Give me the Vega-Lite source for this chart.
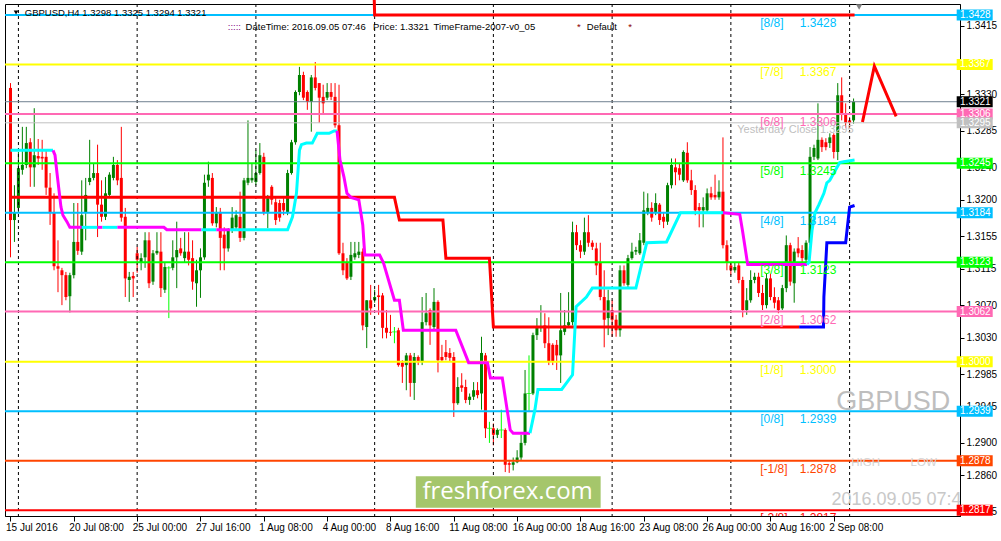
{
"$schema": "https://vega.github.io/schema/vega-lite/v6.json",
"width": 955, "height": 512,
"autosize": {"type": "none"},
"padding": {"left": 5, "top": 4, "right": 41, "bottom": 25},
"background": "white",
"config": {"view": {"stroke": "#000000", "strokeWidth": 1}, "font": "Liberation Sans", "text": {"font": "Liberation Sans"}, "axis": {"labelOverlap": false, "labelBound": false, "labelFlush": false}},
"datasets": {
"candles": [
{"i":0,"o":1.3338,"h":1.3344,"l":1.3129,"c":1.3175},
{"i":1,"o":1.3175,"h":1.3218,"l":1.3148,"c":1.3184},
{"i":2,"o":1.3190,"h":1.3259,"l":1.3184,"c":1.3239},
{"i":3,"o":1.3237,"h":1.3290,"l":1.3231,"c":1.3243},
{"i":4,"o":1.3243,"h":1.3290,"l":1.3239,"c":1.3270},
{"i":5,"o":1.3271,"h":1.3276,"l":1.3216,"c":1.3240},
{"i":6,"o":1.3240,"h":1.3313,"l":1.3216,"c":1.3255},
{"i":7,"o":1.3254,"h":1.3275,"l":1.3243,"c":1.3251},
{"i":8,"o":1.3253,"h":1.3274,"l":1.3237,"c":1.3251},
{"i":9,"o":1.3253,"h":1.3261,"l":1.3206,"c":1.3215},
{"i":10,"o":1.3215,"h":1.3233,"l":1.3169,"c":1.3185},
{"i":11,"o":1.3185,"h":1.3208,"l":1.3113,"c":1.3118},
{"i":12,"o":1.3118,"h":1.3150,"l":1.3086,"c":1.3115},
{"i":13,"o":1.3113,"h":1.3116,"l":1.3070,"c":1.3107},
{"i":14,"o":1.3107,"h":1.3111,"l":1.3076,"c":1.3080},
{"i":15,"o":1.3081,"h":1.3110,"l":1.3061,"c":1.3107},
{"i":16,"o":1.3107,"h":1.3196,"l":1.3103,"c":1.3148},
{"i":17,"o":1.3148,"h":1.3196,"l":1.3132,"c":1.3137},
{"i":18,"o":1.3136,"h":1.3224,"l":1.3132,"c":1.3181},
{"i":19,"o":1.3184,"h":1.3227,"l":1.3150,"c":1.3206},
{"i":20,"o":1.3222,"h":1.3274,"l":1.3218,"c":1.3227},
{"i":21,"o":1.3227,"h":1.3245,"l":1.3224,"c":1.3233},
{"i":22,"o":1.3233,"h":1.3268,"l":1.3154,"c":1.3194},
{"i":23,"o":1.3194,"h":1.3224,"l":1.3173,"c":1.3179},
{"i":24,"o":1.3179,"h":1.3228,"l":1.3175,"c":1.3208},
{"i":25,"o":1.3206,"h":1.3234,"l":1.3202,"c":1.3231},
{"i":26,"o":1.3227,"h":1.3253,"l":1.3224,"c":1.3243},
{"i":27,"o":1.3243,"h":1.3249,"l":1.3218,"c":1.3224},
{"i":28,"o":1.3227,"h":1.3290,"l":1.3173,"c":1.3178},
{"i":29,"o":1.3179,"h":1.3190,"l":1.3080,"c":1.3103},
{"i":30,"o":1.3101,"h":1.3111,"l":1.3074,"c":1.3105},
{"i":31,"o":1.3106,"h":1.3111,"l":1.3080,"c":1.3103},
{"i":32,"o":1.3134,"h":1.3142,"l":1.3110,"c":1.3126},
{"i":33,"o":1.3123,"h":1.3134,"l":1.3113,"c":1.3128},
{"i":34,"o":1.3129,"h":1.3160,"l":1.3116,"c":1.3150},
{"i":35,"o":1.3150,"h":1.3160,"l":1.3091,"c":1.3097},
{"i":36,"o":1.3099,"h":1.3138,"l":1.3095,"c":1.3134},
{"i":37,"o":1.3134,"h":1.3160,"l":1.3132,"c":1.3137},
{"i":38,"o":1.3136,"h":1.3160,"l":1.3080,"c":1.3091},
{"i":39,"o":1.3089,"h":1.3122,"l":1.3085,"c":1.3117},
{"i":40,"o":1.3116,"h":1.3118,"l":1.3054,"c":1.3116},
{"i":41,"o":1.3116,"h":1.3150,"l":1.3113,"c":1.3129},
{"i":42,"o":1.3129,"h":1.3173,"l":1.3091,"c":1.3138},
{"i":43,"o":1.3140,"h":1.3153,"l":1.3131,"c":1.3134},
{"i":44,"o":1.3128,"h":1.3160,"l":1.3123,"c":1.3136},
{"i":45,"o":1.3136,"h":1.3160,"l":1.3119,"c":1.3126},
{"i":46,"o":1.3128,"h":1.3150,"l":1.3089,"c":1.3099},
{"i":47,"o":1.3097,"h":1.3126,"l":1.3068,"c":1.3113},
{"i":48,"o":1.3113,"h":1.3140,"l":1.3079,"c":1.3129},
{"i":49,"o":1.3129,"h":1.3231,"l":1.3126,"c":1.3221},
{"i":50,"o":1.3224,"h":1.3247,"l":1.3216,"c":1.3231},
{"i":51,"o":1.3227,"h":1.3233,"l":1.3168,"c":1.3171},
{"i":52,"o":1.3171,"h":1.3191,"l":1.3166,"c":1.3185},
{"i":53,"o":1.3185,"h":1.3190,"l":1.3113,"c":1.3153},
{"i":54,"o":1.3157,"h":1.3166,"l":1.3113,"c":1.3140},
{"i":55,"o":1.3140,"h":1.3165,"l":1.3136,"c":1.3163},
{"i":56,"o":1.3163,"h":1.3191,"l":1.3159,"c":1.3178},
{"i":57,"o":1.3166,"h":1.3187,"l":1.3163,"c":1.3181},
{"i":58,"o":1.3179,"h":1.3210,"l":1.3148,"c":1.3153},
{"i":59,"o":1.3153,"h":1.3227,"l":1.3150,"c":1.3224},
{"i":60,"o":1.3221,"h":1.3298,"l":1.3218,"c":1.3227},
{"i":61,"o":1.3224,"h":1.3245,"l":1.3221,"c":1.3227},
{"i":62,"o":1.3222,"h":1.3261,"l":1.3218,"c":1.3233},
{"i":63,"o":1.3233,"h":1.3270,"l":1.3231,"c":1.3255},
{"i":64,"o":1.3253,"h":1.3258,"l":1.3181,"c":1.3185},
{"i":65,"o":1.3185,"h":1.3206,"l":1.3165,"c":1.3202},
{"i":66,"o":1.3216,"h":1.3218,"l":1.3194,"c":1.3200},
{"i":67,"o":1.3197,"h":1.3202,"l":1.3169,"c":1.3175},
{"i":68,"o":1.3196,"h":1.3200,"l":1.3173,"c":1.3178},
{"i":69,"o":1.3196,"h":1.3202,"l":1.3181,"c":1.3187},
{"i":70,"o":1.3185,"h":1.3237,"l":1.3181,"c":1.3233},
{"i":71,"o":1.3233,"h":1.3274,"l":1.3231,"c":1.3271},
{"i":72,"o":1.3271,"h":1.3335,"l":1.3268,"c":1.3333},
{"i":73,"o":1.3333,"h":1.3364,"l":1.3329,"c":1.3354},
{"i":74,"o":1.3354,"h":1.3358,"l":1.3323,"c":1.3326},
{"i":75,"o":1.3333,"h":1.3335,"l":1.3311,"c":1.3321},
{"i":76,"o":1.3321,"h":1.3354,"l":1.3284,"c":1.3351},
{"i":77,"o":1.3351,"h":1.3370,"l":1.3335,"c":1.3338},
{"i":78,"o":1.3344,"h":1.3344,"l":1.3295,"c":1.3326},
{"i":79,"o":1.3327,"h":1.3342,"l":1.3307,"c":1.3319},
{"i":80,"o":1.3326,"h":1.3344,"l":1.3323,"c":1.3333},
{"i":81,"o":1.3333,"h":1.3344,"l":1.3323,"c":1.3327},
{"i":82,"o":1.3327,"h":1.3344,"l":1.3289,"c":1.3292},
{"i":83,"o":1.3292,"h":1.3342,"l":1.3132,"c":1.3134},
{"i":84,"o":1.3134,"h":1.3147,"l":1.3107,"c":1.3113},
{"i":85,"o":1.3123,"h":1.3128,"l":1.3101,"c":1.3103},
{"i":86,"o":1.3105,"h":1.3148,"l":1.3101,"c":1.3132},
{"i":87,"o":1.3129,"h":1.3148,"l":1.3126,"c":1.3134},
{"i":88,"o":1.3132,"h":1.3148,"l":1.3128,"c":1.3136},
{"i":89,"o":1.3136,"h":1.3140,"l":1.3039,"c":1.3045},
{"i":90,"o":1.3043,"h":1.3076,"l":1.3017,"c":1.3076},
{"i":91,"o":1.3076,"h":1.3095,"l":1.3058,"c":1.3066},
{"i":92,"o":1.3076,"h":1.3089,"l":1.3073,"c":1.3080},
{"i":93,"o":1.3082,"h":1.3095,"l":1.3058,"c":1.3080},
{"i":94,"o":1.3082,"h":1.3085,"l":1.3029,"c":1.3042},
{"i":95,"o":1.3042,"h":1.3064,"l":1.3029,"c":1.3036},
{"i":96,"o":1.3037,"h":1.3058,"l":1.3032,"c":1.3036},
{"i":97,"o":1.3037,"h":1.3043,"l":1.3023,"c":1.3037},
{"i":98,"o":1.3039,"h":1.3042,"l":1.2994,"c":1.2996},
{"i":99,"o":1.2999,"h":1.3002,"l":1.2974,"c":1.2994},
{"i":100,"o":1.2996,"h":1.3011,"l":1.2965,"c":1.3008},
{"i":101,"o":1.3008,"h":1.3011,"l":1.2957,"c":1.2974},
{"i":102,"o":1.2974,"h":1.3011,"l":1.2953,"c":1.3006},
{"i":103,"o":1.3006,"h":1.3008,"l":1.2996,"c":1.3000},
{"i":104,"o":1.3000,"h":1.3080,"l":1.2996,"c":1.3049},
{"i":105,"o":1.3049,"h":1.3085,"l":1.3045,"c":1.3060},
{"i":106,"o":1.3064,"h":1.3066,"l":1.3021,"c":1.3045},
{"i":107,"o":1.3043,"h":1.3091,"l":1.3039,"c":1.3074},
{"i":108,"o":1.3074,"h":1.3076,"l":1.2987,"c":1.3002},
{"i":109,"o":1.3006,"h":1.3021,"l":1.3000,"c":1.3002},
{"i":110,"o":1.3012,"h":1.3027,"l":1.3002,"c":1.3006},
{"i":111,"o":1.3011,"h":1.3017,"l":1.3000,"c":1.3005},
{"i":112,"o":1.3006,"h":1.3012,"l":1.2932,"c":1.2949},
{"i":113,"o":1.2949,"h":1.2981,"l":1.2947,"c":1.2969},
{"i":114,"o":1.2971,"h":1.2986,"l":1.2963,"c":1.2968},
{"i":115,"o":1.2969,"h":1.2978,"l":1.2949,"c":1.2953},
{"i":116,"o":1.2953,"h":1.2961,"l":1.2947,"c":1.2957},
{"i":117,"o":1.2957,"h":1.2975,"l":1.2953,"c":1.2965},
{"i":118,"o":1.2965,"h":1.2975,"l":1.2955,"c":1.2959},
{"i":119,"o":1.2961,"h":1.3031,"l":1.2941,"c":1.3011},
{"i":120,"o":1.3008,"h":1.3011,"l":1.2906,"c":1.2918},
{"i":121,"o":1.2918,"h":1.2926,"l":1.2900,"c":1.2918},
{"i":122,"o":1.2918,"h":1.2924,"l":1.2897,"c":1.2910},
{"i":123,"o":1.2910,"h":1.2918,"l":1.2906,"c":1.2916},
{"i":124,"o":1.2916,"h":1.2941,"l":1.2906,"c":1.2916},
{"i":125,"o":1.2916,"h":1.2918,"l":1.2864,"c":1.2873},
{"i":126,"o":1.2875,"h":1.2879,"l":1.2863,"c":1.2873},
{"i":127,"o":1.2873,"h":1.2882,"l":1.2866,"c":1.2876},
{"i":128,"o":1.2876,"h":1.2891,"l":1.2875,"c":1.2882},
{"i":129,"o":1.2882,"h":1.2910,"l":1.2879,"c":1.2900},
{"i":130,"o":1.2900,"h":1.2990,"l":1.2897,"c":1.2961},
{"i":131,"o":1.2961,"h":1.3008,"l":1.2938,"c":1.2961},
{"i":132,"o":1.2961,"h":1.3036,"l":1.2959,"c":1.3033},
{"i":133,"o":1.3033,"h":1.3054,"l":1.3027,"c":1.3042},
{"i":134,"o":1.3042,"h":1.3070,"l":1.3037,"c":1.3043},
{"i":135,"o":1.3045,"h":1.3060,"l":1.3017,"c":1.3023},
{"i":136,"o":1.3023,"h":1.3055,"l":1.2996,"c":1.3000},
{"i":137,"o":1.3021,"h":1.3023,"l":1.2996,"c":1.3000},
{"i":138,"o":1.3021,"h":1.3027,"l":1.2990,"c":1.3008},
{"i":139,"o":1.3008,"h":1.3085,"l":1.2974,"c":1.3039},
{"i":140,"o":1.3037,"h":1.3064,"l":1.3033,"c":1.3045},
{"i":141,"o":1.3045,"h":1.3086,"l":1.3042,"c":1.3049},
{"i":142,"o":1.3049,"h":1.3173,"l":1.3045,"c":1.3160},
{"i":143,"o":1.3160,"h":1.3169,"l":1.3138,"c":1.3144},
{"i":144,"o":1.3144,"h":1.3150,"l":1.3128,"c":1.3136},
{"i":145,"o":1.3136,"h":1.3178,"l":1.3132,"c":1.3160},
{"i":146,"o":1.3160,"h":1.3181,"l":1.3142,"c":1.3147},
{"i":147,"o":1.3147,"h":1.3150,"l":1.3138,"c":1.3142},
{"i":148,"o":1.3140,"h":1.3147,"l":1.3107,"c":1.3119},
{"i":149,"o":1.3122,"h":1.3147,"l":1.3076,"c":1.3080},
{"i":150,"o":1.3080,"h":1.3113,"l":1.3018,"c":1.3052},
{"i":151,"o":1.3054,"h":1.3089,"l":1.3033,"c":1.3076},
{"i":152,"o":1.3064,"h":1.3076,"l":1.3031,"c":1.3052},
{"i":153,"o":1.3052,"h":1.3058,"l":1.3031,"c":1.3039},
{"i":154,"o":1.3039,"h":1.3119,"l":1.3031,"c":1.3113},
{"i":155,"o":1.3113,"h":1.3119,"l":1.3094,"c":1.3097},
{"i":156,"o":1.3095,"h":1.3132,"l":1.3091,"c":1.3128},
{"i":157,"o":1.3128,"h":1.3147,"l":1.3126,"c":1.3136},
{"i":158,"o":1.3136,"h":1.3142,"l":1.3132,"c":1.3138},
{"i":159,"o":1.3134,"h":1.3159,"l":1.3132,"c":1.3150},
{"i":160,"o":1.3147,"h":1.3210,"l":1.3144,"c":1.3187},
{"i":161,"o":1.3185,"h":1.3208,"l":1.3181,"c":1.3190},
{"i":162,"o":1.3190,"h":1.3197,"l":1.3173,"c":1.3178},
{"i":163,"o":1.3185,"h":1.3208,"l":1.3181,"c":1.3196},
{"i":164,"o":1.3194,"h":1.3196,"l":1.3169,"c":1.3175},
{"i":165,"o":1.3179,"h":1.3185,"l":1.3165,"c":1.3173},
{"i":166,"o":1.3173,"h":1.3221,"l":1.3169,"c":1.3218},
{"i":167,"o":1.3218,"h":1.3251,"l":1.3214,"c":1.3243},
{"i":168,"o":1.3240,"h":1.3251,"l":1.3218,"c":1.3234},
{"i":169,"o":1.3239,"h":1.3245,"l":1.3224,"c":1.3231},
{"i":170,"o":1.3224,"h":1.3261,"l":1.3222,"c":1.3259},
{"i":171,"o":1.3258,"h":1.3271,"l":1.3221,"c":1.3224},
{"i":172,"o":1.3224,"h":1.3237,"l":1.3206,"c":1.3212},
{"i":173,"o":1.3212,"h":1.3218,"l":1.3181,"c":1.3187},
{"i":174,"o":1.3191,"h":1.3196,"l":1.3166,"c":1.3187},
{"i":175,"o":1.3187,"h":1.3203,"l":1.3166,"c":1.3191},
{"i":176,"o":1.3187,"h":1.3214,"l":1.3185,"c":1.3208},
{"i":177,"o":1.3208,"h":1.3216,"l":1.3200,"c":1.3203},
{"i":178,"o":1.3206,"h":1.3231,"l":1.3200,"c":1.3203},
{"i":179,"o":1.3203,"h":1.3224,"l":1.3200,"c":1.3210},
{"i":180,"o":1.3210,"h":1.3277,"l":1.3140,"c":1.3144},
{"i":181,"o":1.3144,"h":1.3150,"l":1.3113,"c":1.3122},
{"i":182,"o":1.3119,"h":1.3123,"l":1.3107,"c":1.3113},
{"i":183,"o":1.3113,"h":1.3123,"l":1.3110,"c":1.3117},
{"i":184,"o":1.3119,"h":1.3123,"l":1.3097,"c":1.3101},
{"i":185,"o":1.3101,"h":1.3105,"l":1.3055,"c":1.3064},
{"i":186,"o":1.3064,"h":1.3091,"l":1.3058,"c":1.3076},
{"i":187,"o":1.3076,"h":1.3113,"l":1.3073,"c":1.3101},
{"i":188,"o":1.3101,"h":1.3110,"l":1.3097,"c":1.3105},
{"i":189,"o":1.3105,"h":1.3110,"l":1.3080,"c":1.3085},
{"i":190,"o":1.3085,"h":1.3095,"l":1.3064,"c":1.3070},
{"i":191,"o":1.3070,"h":1.3109,"l":1.3066,"c":1.3103},
{"i":192,"o":1.3103,"h":1.3109,"l":1.3076,"c":1.3080},
{"i":193,"o":1.3080,"h":1.3092,"l":1.3066,"c":1.3073},
{"i":194,"o":1.3076,"h":1.3080,"l":1.3060,"c":1.3064},
{"i":195,"o":1.3066,"h":1.3095,"l":1.3064,"c":1.3091},
{"i":196,"o":1.3091,"h":1.3156,"l":1.3086,"c":1.3144},
{"i":197,"o":1.3144,"h":1.3147,"l":1.3094,"c":1.3099},
{"i":198,"o":1.3097,"h":1.3140,"l":1.3073,"c":1.3136},
{"i":199,"o":1.3140,"h":1.3154,"l":1.3129,"c":1.3134},
{"i":200,"o":1.3138,"h":1.3144,"l":1.3123,"c":1.3128},
{"i":201,"o":1.3126,"h":1.3150,"l":1.3119,"c":1.3147},
{"i":202,"o":1.3147,"h":1.3265,"l":1.3144,"c":1.3253},
{"i":203,"o":1.3253,"h":1.3268,"l":1.3249,"c":1.3264},
{"i":204,"o":1.3251,"h":1.3319,"l":1.3249,"c":1.3274},
{"i":205,"o":1.3274,"h":1.3277,"l":1.3259,"c":1.3265},
{"i":206,"o":1.3271,"h":1.3276,"l":1.3261,"c":1.3265},
{"i":207,"o":1.3270,"h":1.3282,"l":1.3264,"c":1.3277},
{"i":208,"o":1.3280,"h":1.3282,"l":1.3251,"c":1.3259},
{"i":209,"o":1.3259,"h":1.3344,"l":1.3249,"c":1.3329},
{"i":210,"o":1.3329,"h":1.3351,"l":1.3298,"c":1.3305},
{"i":211,"o":1.3305,"h":1.3319,"l":1.3289,"c":1.3295},
{"i":212,"o":1.3298,"h":1.3302,"l":1.3289,"c":1.3295},
{"i":213,"o":1.3298,"h":1.3325,"l":1.3294,"c":1.3321}
],
"levels": [
{"p":1.3428,"k":"8/8","t":"[8/8]","v":"1.3428"},
{"p":1.3367,"k":"7/8","t":"[7/8]","v":"1.3367"},
{"p":1.3306,"k":"6/8","t":"[6/8]","v":"1.3306"},
{"p":1.3245,"k":"5/8","t":"[5/8]","v":"1.3245"},
{"p":1.3184,"k":"4/8","t":"[4/8]","v":"1.3184"},
{"p":1.3123,"k":"3/8","t":"[3/8]","v":"1.3123"},
{"p":1.3062,"k":"2/8","t":"[2/8]","v":"1.3062"},
{"p":1.3000,"k":"1/8","t":"[1/8]","v":"1.3000"},
{"p":1.2939,"k":"0/8","t":"[0/8]","v":"1.2939"},
{"p":1.2878,"k":"-1/8","t":"[-1/8]","v":"1.2878"},
{"p":1.2817,"k":"-2/8","t":"[-2/8]","v":"1.2817"}
],
"marks": [
{"p":1.3321,"k":"cur"},
{"p":1.3295,"k":"yc"}
],
"tags": [
{"p":1.3428,"k":"8/8","v":"1.3428"},
{"p":1.3367,"k":"7/8","v":"1.3367"},
{"p":1.3321,"k":"cur","v":"1.3321"},
{"p":1.3306,"k":"6/8","v":"1.3306"},
{"p":1.3295,"k":"yc","v":"1.3295"},
{"p":1.3245,"k":"5/8","v":"1.3245"},
{"p":1.3184,"k":"4/8","v":"1.3184"},
{"p":1.3123,"k":"3/8","v":"1.3123"},
{"p":1.3062,"k":"2/8","v":"1.3062"},
{"p":1.3000,"k":"1/8","v":"1.3000"},
{"p":1.2939,"k":"0/8","v":"1.2939"},
{"p":1.2878,"k":"-1/8","v":"1.2878"},
{"p":1.2817,"k":"-2/8","v":"1.2817"}
],
"seps": [{"i":2},{"i":32},{"i":62},{"i":92},{"i":122},{"i":152},{"i":182},{"i":212}],
"redstep": [
{"i":0,"p":1.3203},{"i":97,"p":1.3203},{"i":98.25,"p":1.3175},{"i":109.25,"p":1.3175},{"i":110,"p":1.3128},{"i":121,"p":1.3128},{"i":122,"p":1.3043},{"i":199.25,"p":1.3043}
],
"blue": [
{"i":199.25,"p":1.3043},{"i":205.4,"p":1.3043},{"i":205.5,"p":1.3080},{"i":206.25,"p":1.3147},{"i":211,"p":1.3147},{"i":212,"p":1.3191},{"i":213.25,"p":1.3193}
],
"redtop": [
{"i":91.9,"p":1.3447},{"i":92,"p":1.3428},{"i":213.25,"p":1.3428}
],
"zig": [
{"i":215.25,"p":1.3296},{"i":218.25,"p":1.3365},{"i":223.75,"p":1.3303}
],
"mc": [
{"s":1,"c":"up","i":0,"p":1.3261},{"s":1,"c":"up","i":10.75,"p":1.3261},
{"s":2,"c":"down","i":10.75,"p":1.3261},{"s":2,"c":"down","i":11.25,"p":1.3255},{"s":2,"c":"down","i":11.75,"p":1.3233},{"s":2,"c":"down","i":12.25,"p":1.3212},{"s":2,"c":"down","i":12.75,"p":1.3191},{"s":2,"c":"down","i":13.25,"p":1.3181},{"s":2,"c":"down","i":14.25,"p":1.3173},{"s":2,"c":"down","i":15,"p":1.3166},{"s":2,"c":"down","i":18,"p":1.3166},
{"s":3,"c":"up","i":18,"p":1.3166},{"s":3,"c":"up","i":22,"p":1.3166},
{"s":4,"c":"down","i":22,"p":1.3166},{"s":4,"c":"down","i":23.25,"p":1.3166},
{"s":5,"c":"up","i":23.25,"p":1.3166},{"s":5,"c":"up","i":27,"p":1.3166},
{"s":6,"c":"down","i":27,"p":1.3166},{"s":6,"c":"down","i":38.75,"p":1.3166},{"s":6,"c":"down","i":39.5,"p":1.3163},{"s":6,"c":"down","i":48.25,"p":1.3163},
{"s":7,"c":"up","i":48.25,"p":1.3163},{"s":7,"c":"up","i":52,"p":1.3163},
{"s":8,"c":"down","i":52,"p":1.3163},{"s":8,"c":"down","i":55.5,"p":1.3163},
{"s":9,"c":"up","i":55.5,"p":1.3163},{"s":9,"c":"up","i":70,"p":1.3163},{"s":9,"c":"up","i":71.25,"p":1.3179},{"s":9,"c":"up","i":72.25,"p":1.3208},{"s":9,"c":"up","i":73,"p":1.3261},{"s":9,"c":"up","i":73.5,"p":1.3268},{"s":9,"c":"up","i":74.75,"p":1.3270},{"s":9,"c":"up","i":76.25,"p":1.3270},{"s":9,"c":"up","i":77.5,"p":1.3282},{"s":9,"c":"up","i":80.5,"p":1.3282},{"s":9,"c":"up","i":81.75,"p":1.3285},{"s":9,"c":"up","i":82.5,"p":1.3285},
{"s":10,"c":"down","i":82.5,"p":1.3285},{"s":10,"c":"down","i":83.25,"p":1.3249},{"s":10,"c":"down","i":84.25,"p":1.3228},{"s":10,"c":"down","i":85,"p":1.3208},{"s":10,"c":"down","i":86,"p":1.3203},{"s":10,"c":"down","i":88,"p":1.3200},{"s":10,"c":"down","i":89,"p":1.3169},{"s":10,"c":"down","i":89.5,"p":1.3132},{"s":10,"c":"down","i":93.25,"p":1.3132},{"s":10,"c":"down","i":94.25,"p":1.3122},{"s":10,"c":"down","i":97,"p":1.3076},{"s":10,"c":"down","i":98.25,"p":1.3076},{"s":10,"c":"down","i":99.25,"p":1.3039},{"s":10,"c":"down","i":112.5,"p":1.3039},{"s":10,"c":"down","i":115.75,"p":1.2999},{"s":10,"c":"down","i":120.5,"p":1.2999},{"s":10,"c":"down","i":121.25,"p":1.2980},{"s":10,"c":"down","i":124.25,"p":1.2980},{"s":10,"c":"down","i":126.25,"p":1.2916},{"s":10,"c":"down","i":127,"p":1.2912},{"s":10,"c":"down","i":131.25,"p":1.2912},
{"s":11,"c":"up","i":131.25,"p":1.2912},{"s":11,"c":"up","i":132.5,"p":1.2941},{"s":11,"c":"up","i":133.25,"p":1.2966},{"s":11,"c":"up","i":139.25,"p":1.2966},{"s":11,"c":"up","i":142,"p":1.2984},{"s":11,"c":"up","i":142.9,"p":1.3068},{"s":11,"c":"up","i":145.5,"p":1.3080},{"s":11,"c":"up","i":147,"p":1.3091},{"s":11,"c":"up","i":158,"p":1.3091},{"s":11,"c":"up","i":160.75,"p":1.3147},{"s":11,"c":"up","i":165.75,"p":1.3148},{"s":11,"c":"up","i":169.25,"p":1.3184},{"s":11,"c":"up","i":180,"p":1.3184},
{"s":12,"c":"down","i":180,"p":1.3184},{"s":12,"c":"down","i":184.25,"p":1.3182},{"s":12,"c":"down","i":185,"p":1.3160},{"s":12,"c":"down","i":186.25,"p":1.3120},{"s":12,"c":"down","i":201.25,"p":1.3120},
{"s":13,"c":"up","i":201.25,"p":1.3120},{"s":13,"c":"up","i":201.75,"p":1.3123},{"s":13,"c":"up","i":202.5,"p":1.3162},{"s":13,"c":"up","i":203.25,"p":1.3184},{"s":13,"c":"up","i":204.25,"p":1.3194},{"s":13,"c":"up","i":205.5,"p":1.3208},{"s":13,"c":"up","i":206.25,"p":1.3221},{"s":13,"c":"up","i":207,"p":1.3224},{"s":13,"c":"up","i":209.5,"p":1.3246},{"s":13,"c":"up","i":210.5,"p":1.3247},{"s":13,"c":"up","i":213.25,"p":1.3249}
],
"one": [{"n": 1}]
},
"resolve": {"scale": {"color": "independent"}},
"layer": [
{
 "data": {"name": "candles"},
 "transform": [{"calculate": "datum.c > datum.o ? 'up' : (datum.c < datum.o ? 'down' : 'doji')", "as": "dir"}],
 "mark": {"type": "rule", "strokeWidth": 1, "clip": true},
 "encoding": {
  "x": {"field": "i", "type": "quantitative", "scale": {"domain": [-0.125, 238.625], "nice": false, "zero": false},
   "axis": {"title": null, "values": [0,16,32,48,64,80,96,112,128,144,160,176,192,208], "tickCount": 40,
    "labelExpr": "['15 Jul 2016','20 Jul 08:00','25 Jul 00:00','27 Jul 16:00','1 Aug 08:00','4 Aug 00:00','8 Aug 16:00','11 Aug 08:00','16 Aug 00:00','18 Aug 16:00','23 Aug 08:00','26 Aug 00:00','30 Aug 16:00','2 Sep 08:00'][round(datum.value/16)]",
    "labelAlign": "left", "labelBaseline": "top", "labelPadding": 1, "labelOffset": -5, "tickSize": 5, "tickColor": "#000000", "domainColor": "#000000", "labelColor": "#000000", "labelFontSize": 10, "labelFont": "Liberation Sans", "grid": false, "labelOverlap": false, "labelFlush": false}},
  "y": {"field": "l", "type": "quantitative", "scale": {"domain": [1.28098, 1.34416], "nice": false, "zero": false},
   "axis": {"orient": "right", "title": null, "values": [1.3415,1.333,1.3285,1.324,1.32,1.3155,1.3115,1.307,1.303,1.2985,1.2945,1.29,1.286,1.2815], "tickCount": 40,
    "format": ".4f", "tickSize": 4, "labelPadding": 2, "labelFontSize": 10, "labelFont": "Liberation Sans", "grid": false, "labelOverlap": false, "labelFlush": false, "labelBound": false, "domainColor": "#000000", "tickColor": "#000000", "labelColor": "#000000", "labelBaseline": "middle"}},
  "y2": {"field": "h"},
  "color": {"field": "dir", "type": "nominal", "scale": {"domain": ["up","down","doji"], "range": ["#008000","#FF0000","#00FF00"]}, "legend": null}
 }
},
{
 "data": {"name": "candles"},
 "transform": [{"calculate": "datum.c > datum.o ? 'up' : (datum.c < datum.o ? 'down' : 'doji')", "as": "dir"}],
 "mark": {"type": "bar", "size": 3, "clip": true},
 "encoding": {
  "x": {"field": "i", "type": "quantitative", "axis": {"title": null}},
  "y": {"field": "o", "type": "quantitative", "axis": {"title": null}},
  "y2": {"field": "c"},
  "color": {"field": "dir", "type": "nominal", "scale": {"domain": ["up","down","doji"], "range": ["#008000","#FF0000","#00FF00"]}, "legend": null}
 }
},
{
 "data": {"name": "candles"},
 "transform": [{"filter": "datum.c == datum.o"}],
 "mark": {"type": "tick", "orient": "horizontal", "size": 5, "thickness": 1, "color": "#00FF00", "clip": true},
 "encoding": {
  "x": {"field": "i", "type": "quantitative", "axis": {"title": null}},
  "y": {"field": "o", "type": "quantitative", "axis": {"title": null}}
 }
},
{
 "data": {"name": "seps"},
 "mark": {"type": "rule", "color": "#000000", "strokeWidth": 1, "strokeDash": [3, 3]},
 "encoding": {"x": {"field": "i", "type": "quantitative", "axis": {"title": null}}}
},
{
 "data": {"name": "levels"},
 "mark": {"type": "rule", "strokeWidth": 2},
 "encoding": {
  "y": {"field": "p", "type": "quantitative", "axis": {"title": null}},
  "color": {"field": "k", "type": "nominal", "legend": null, "scale": {"domain": ["8/8","7/8","6/8","5/8","4/8","3/8","2/8","1/8","0/8","-1/8","-2/8"], "range": ["#00BFFF","#FFFF00","#FF69B4","#00FF00","#00BFFF","#00FF00","#FF69B4","#FFFF00","#00BFFF","#FF4500","#FF0000"]}}
 }
},
{
 "data": {"name": "marks"},
 "mark": {"type": "rule", "strokeWidth": 1},
 "encoding": {
  "y": {"field": "p", "type": "quantitative", "axis": {"title": null}},
  "color": {"field": "k", "type": "nominal", "legend": null, "scale": {"domain": ["cur","yc"], "range": ["#708090","#C0C0C0"]}}
 }
},
{
 "data": {"name": "redtop"},
 "mark": {"type": "line", "color": "#FF0000", "strokeWidth": 3},
 "encoding": {"x": {"field": "i", "type": "quantitative", "axis": {"title": null}}, "y": {"field": "p", "type": "quantitative", "axis": {"title": null}}}
},
{
 "data": {"name": "redstep"},
 "mark": {"type": "line", "color": "#FF0000", "strokeWidth": 3, "clip": true},
 "encoding": {"x": {"field": "i", "type": "quantitative", "axis": {"title": null}}, "y": {"field": "p", "type": "quantitative", "axis": {"title": null}}}
},
{
 "data": {"name": "blue"},
 "mark": {"type": "line", "color": "#0000FF", "strokeWidth": 3, "clip": true},
 "encoding": {"x": {"field": "i", "type": "quantitative", "axis": {"title": null}}, "y": {"field": "p", "type": "quantitative", "axis": {"title": null}}}
},
{
 "data": {"name": "mc"},
 "mark": {"type": "line", "strokeWidth": 3, "clip": true},
 "encoding": {
  "x": {"field": "i", "type": "quantitative", "axis": {"title": null}},
  "y": {"field": "p", "type": "quantitative", "axis": {"title": null}},
  "detail": {"field": "s", "type": "nominal"},
  "color": {"field": "c", "type": "nominal", "legend": null, "scale": {"domain": ["up","down"], "range": ["#00FFFF","#FF00FF"]}}
 }
},
{
 "data": {"name": "zig"},
 "mark": {"type": "line", "color": "#FF0000", "strokeWidth": 3},
 "encoding": {"x": {"field": "i", "type": "quantitative", "axis": {"title": null}}, "y": {"field": "p", "type": "quantitative", "axis": {"title": null}}}
},
{
 "data": {"name": "levels"},
 "mark": {"type": "text", "align": "left", "baseline": "middle", "dy": 8, "fontSize": 12, "clip": true},
 "encoding": {
  "x": {"datum": 189.4, "type": "quantitative", "axis": {"title": null}},
  "y": {"field": "p", "type": "quantitative", "axis": {"title": null}},
  "text": {"field": "t"},
  "color": {"field": "k", "type": "nominal", "legend": null, "scale": {"domain": ["8/8","7/8","6/8","5/8","4/8","3/8","2/8","1/8","0/8","-1/8","-2/8"], "range": ["#00BFFF","#FFFF00","#FF69B4","#00FF00","#00BFFF","#00FF00","#FF69B4","#FFFF00","#00BFFF","#FF4500","#FF0000"]}}
 }
},
{
 "data": {"name": "levels"},
 "mark": {"type": "text", "align": "left", "baseline": "middle", "dy": 8, "fontSize": 12, "clip": true},
 "encoding": {
  "x": {"datum": 199.4, "type": "quantitative", "axis": {"title": null}},
  "y": {"field": "p", "type": "quantitative", "axis": {"title": null}},
  "text": {"field": "v"},
  "color": {"field": "k", "type": "nominal", "legend": null, "scale": {"domain": ["8/8","7/8","6/8","5/8","4/8","3/8","2/8","1/8","0/8","-1/8","-2/8"], "range": ["#00BFFF","#FFFF00","#FF69B4","#00FF00","#00BFFF","#00FF00","#FF69B4","#FFFF00","#00BFFF","#FF4500","#FF0000"]}}
 }
},
{
 "data": {"name": "one"},
 "mark": {"type": "text", "align": "left", "baseline": "middle", "fontSize": 11, "color": "#C0C0C0", "text": "Yesterday Close 1.3295"},
 "encoding": {"x": {"datum": 183.6, "type": "quantitative", "axis": {"title": null}}, "y": {"datum": 1.3286, "type": "quantitative", "axis": {"title": null}}}
},
{
 "data": {"name": "one"},
 "mark": {"type": "text", "align": "left", "baseline": "middle", "fontSize": 27, "color": "#BEBEBE", "text": "GBPUSD"},
 "encoding": {"x": {"datum": 208.6, "type": "quantitative", "axis": {"title": null}}, "y": {"datum": 1.2950, "type": "quantitative", "axis": {"title": null}}}
},
{
 "data": {"name": "one"},
 "mark": {"type": "text", "align": "left", "baseline": "middle", "fontSize": 11.5, "color": "#D3D3D3", "text": "HIGH"},
 "encoding": {"x": {"datum": 212.4, "type": "quantitative", "axis": {"title": null}}, "y": {"datum": 1.2875, "type": "quantitative", "axis": {"title": null}}}
},
{
 "data": {"name": "one"},
 "mark": {"type": "text", "align": "left", "baseline": "middle", "fontSize": 11.5, "color": "#D3D3D3", "text": "LOW"},
 "encoding": {"x": {"datum": 227.4, "type": "quantitative", "axis": {"title": null}}, "y": {"datum": 1.2875, "type": "quantitative", "axis": {"title": null}}}
},
{
 "data": {"name": "one"},
 "mark": {"type": "text", "align": "left", "baseline": "middle", "fontSize": 18, "color": "#C8C8C8", "text": "2016.09.05 07:46", "clip": true},
 "encoding": {"x": {"datum": 207.4, "type": "quantitative", "axis": {"title": null}}, "y": {"datum": 1.2830, "type": "quantitative", "axis": {"title": null}}}
},
{
 "data": {"name": "one"},
 "mark": {"type": "rect", "color": "#A5C66B"},
 "encoding": {"x": {"datum": 102.4, "type": "quantitative", "axis": {"title": null}}, "x2": {"datum": 149.1}, "y": {"datum": 1.2859, "type": "quantitative", "axis": {"title": null}}, "y2": {"datum": 1.2820}}
},
{
 "data": {"name": "one"},
 "mark": {"type": "text", "align": "center", "baseline": "middle", "fontSize": 24, "color": "#FFFFFF", "font": "Open Sans", "text": "freshforex.com"},
 "encoding": {"x": {"datum": 125.6, "type": "quantitative", "axis": {"title": null}}, "y": {"datum": 1.2839, "type": "quantitative", "axis": {"title": null}}}
},
{
 "data": {"name": "one"},
 "mark": {"type": "text", "align": "left", "baseline": "middle", "fontSize": 9.5, "color": "#000000", "text": "GBPUSD,H4  1.3298 1.3325 1.3294 1.3321"},
 "encoding": {"x": {"datum": 3.6, "type": "quantitative", "axis": {"title": null}}, "y": {"datum": 1.3431, "type": "quantitative", "axis": {"title": null}}}
},
{
 "data": {"name": "one"},
 "mark": {"type": "point", "shape": "triangle-down", "filled": true, "size": 22, "color": "#000000", "opacity": 1},
 "encoding": {"x": {"datum": 1.4, "type": "quantitative", "axis": {"title": null}}, "y": {"datum": 1.3431, "type": "quantitative", "axis": {"title": null}}}
},
{
 "data": {"name": "one"},
 "mark": {"type": "point", "shape": "triangle-down", "filled": true, "size": 40, "color": "#808080", "opacity": 1},
 "encoding": {"x": {"datum": 214.4, "type": "quantitative", "axis": {"title": null}}, "y": {"datum": 1.3438, "type": "quantitative", "axis": {"title": null}}}
},
{
 "data": {"name": "one"},
 "mark": {"type": "text", "align": "left", "baseline": "middle", "fontSize": 9.5, "color": "#800080", "text": ":::::"},
 "encoding": {"x": {"datum": 54.9, "type": "quantitative", "axis": {"title": null}}, "y": {"datum": 1.3413, "type": "quantitative", "axis": {"title": null}}}
},
{
 "data": {"name": "one"},
 "mark": {"type": "text", "align": "left", "baseline": "middle", "fontSize": 9.5, "color": "#000000", "text": "DateTime: 2016.09.05 07:46"},
 "encoding": {"x": {"datum": 59.4, "type": "quantitative", "axis": {"title": null}}, "y": {"datum": 1.3413, "type": "quantitative", "axis": {"title": null}}}
},
{
 "data": {"name": "one"},
 "mark": {"type": "text", "align": "left", "baseline": "middle", "fontSize": 9.5, "color": "#000000", "text": "Price: 1.3321"},
 "encoding": {"x": {"datum": 91.6, "type": "quantitative", "axis": {"title": null}}, "y": {"datum": 1.3413, "type": "quantitative", "axis": {"title": null}}}
},
{
 "data": {"name": "one"},
 "mark": {"type": "text", "align": "left", "baseline": "middle", "fontSize": 9.5, "color": "#000000", "text": "TimeFrame-2007-v0_05"},
 "encoding": {"x": {"datum": 106.9, "type": "quantitative", "axis": {"title": null}}, "y": {"datum": 1.3413, "type": "quantitative", "axis": {"title": null}}}
},
{
 "data": {"name": "one"},
 "mark": {"type": "text", "align": "left", "baseline": "middle", "fontSize": 9.5, "color": "#8B0000", "text": "*"},
 "encoding": {"x": {"datum": 143.1, "type": "quantitative", "axis": {"title": null}}, "y": {"datum": 1.3413, "type": "quantitative", "axis": {"title": null}}}
},
{
 "data": {"name": "one"},
 "mark": {"type": "text", "align": "left", "baseline": "middle", "fontSize": 9.5, "color": "#000000", "text": "Default"},
 "encoding": {"x": {"datum": 145.6, "type": "quantitative", "axis": {"title": null}}, "y": {"datum": 1.3413, "type": "quantitative", "axis": {"title": null}}}
},
{
 "data": {"name": "one"},
 "mark": {"type": "text", "align": "left", "baseline": "middle", "fontSize": 9.5, "color": "#8B0000", "text": "*"},
 "encoding": {"x": {"datum": 156.1, "type": "quantitative", "axis": {"title": null}}, "y": {"datum": 1.3413, "type": "quantitative", "axis": {"title": null}}}
},
{
 "data": {"name": "tags"},
 "mark": {"type": "tick", "orient": "horizontal", "size": 36, "thickness": 11, "opacity": 1},
 "encoding": {
  "x": {"datum": 243.6, "type": "quantitative", "axis": {"title": null}},
  "y": {"field": "p", "type": "quantitative", "axis": {"title": null}},
  "color": {"field": "k", "type": "nominal", "legend": null, "scale": {"domain": ["8/8","7/8","cur","6/8","yc","5/8","4/8","3/8","2/8","1/8","0/8","-1/8","-2/8"], "range": ["#00BFFF","#FFFF00","#000000","#FF69B4","#C0C0C0","#00FF00","#00BFFF","#00FF00","#FF69B4","#FFFF00","#00BFFF","#FF4500","#FF0000"]}}
 }
},
{
 "data": {"name": "tags"},
 "mark": {"type": "text", "align": "left", "baseline": "middle", "fontSize": 10, "color": "#FFFFFF"},
 "encoding": {
  "x": {"datum": 239.9, "type": "quantitative", "axis": {"title": null}},
  "y": {"field": "p", "type": "quantitative", "axis": {"title": null}},
  "text": {"field": "v"}
 }
}
]
}
